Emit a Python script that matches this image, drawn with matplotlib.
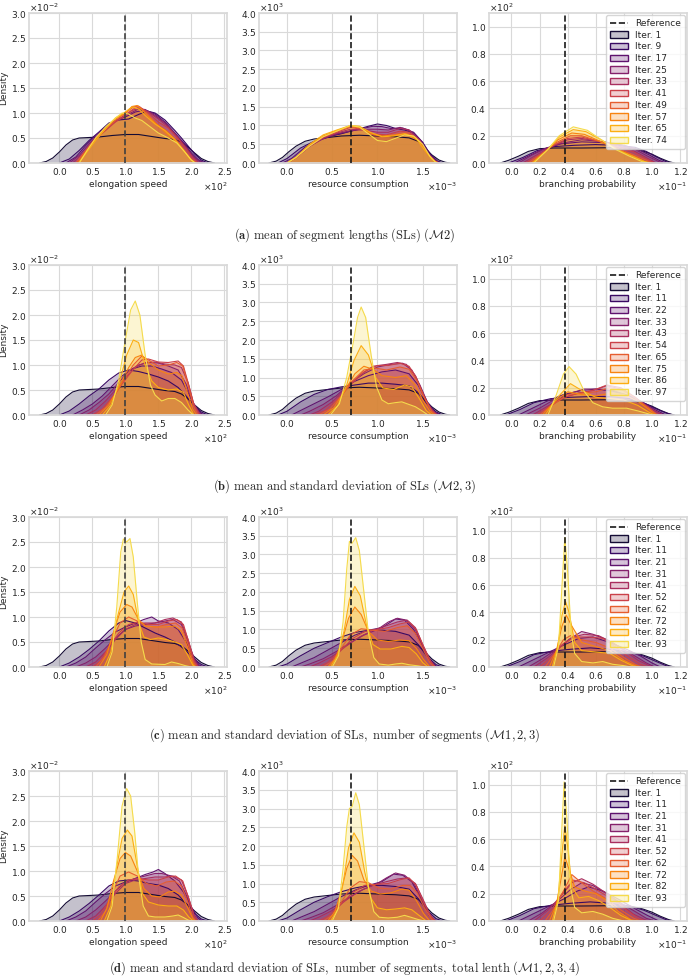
import numpy as np
import matplotlib
matplotlib.use('Agg')
import matplotlib.pyplot as plt
import seaborn as sns
from matplotlib.lines import Line2D
from matplotlib.patches import Patch
from matplotlib.ticker import MultipleLocator, ScalarFormatter

# iteration numbers shown in the legends of each row
iters_a = [1, 9, 17, 25, 33, 41, 49, 57, 65, 74]
iters_b = [1, 11, 22, 33, 43, 54, 65, 75, 86, 97]
iters_c = [1, 11, 21, 31, 41, 52, 62, 72, 82, 93]
iters_d = [1, 11, 21, 31, 41, 52, 62, 72, 82, 93]

params = ['elongation speed', 'resource consumption', 'branching probability']
reference = [1.0, 0.71, 0.38]          # in axis units (x10^2, x10^-3, x10^-1)

captions = [
    r"$\mathbf{(a)}\ \mathrm{mean\ of\ segment\ lengths\ (SLs)}\ (\mathcal{M}2)$",
    r"$\mathbf{(b)}\ \mathrm{mean\ and\ standard\ deviation\ of\ SLs}\ (\mathcal{M}2,3)$",
    r"$\mathbf{(c)}\ \mathrm{mean\ and\ standard\ deviation\ of\ SLs,\ number\ of\ segments}\ (\mathcal{M}1,2,3)$",
    r"$\mathbf{(d)}\ \mathrm{mean\ and\ standard\ deviation\ of\ SLs,\ number\ of\ segments,\ total\ lenth}\ (\mathcal{M}1,2,3,4)$",
]

# density curves, (x, density) in axis units
prior_speed = [(-0.3, 0), (-0.2, 0.03), (-0.1, 0.1), (0.0, 0.22), (0.1, 0.36), (0.2, 0.46), (0.3, 0.5),
               (0.45, 0.51), (0.6, 0.52), (0.8, 0.55), (1.0, 0.57), (1.2, 0.57), (1.4, 0.53), (1.6, 0.49),
               (1.75, 0.47), (1.85, 0.42), (1.95, 0.32), (2.05, 0.2), (2.15, 0.09), (2.25, 0.03), (2.35, 0)]
prior_res = [(-0.2, 0), (-0.12, 0.05), (-0.05, 0.15), (0.02, 0.3), (0.1, 0.45), (0.2, 0.58), (0.3, 0.64),
             (0.45, 0.68), (0.6, 0.72), (0.8, 0.74), (1.0, 0.72), (1.2, 0.7), (1.35, 0.67), (1.45, 0.58),
             (1.52, 0.42), (1.6, 0.22), (1.68, 0.08), (1.75, 0.02), (1.8, 0)]
prior_branch = [(-0.08, 0), (-0.02, 0.02), (0.05, 0.05), (0.12, 0.085), (0.2, 0.105), (0.3, 0.11), (0.5, 0.11),
                (0.7, 0.112), (0.85, 0.108), (0.93, 0.09), (1.0, 0.065), (1.06, 0.035), (1.12, 0.01), (1.16, 0)]

a_speed = [
    [(0.0, 0), (0.15, 0.08), (0.3, 0.25), (0.45, 0.45), (0.6, 0.62), (0.75, 0.8), (0.9, 0.86), (1.05, 0.88), (1.2, 0.97), (1.33, 1.04), (1.45, 1.0), (1.6, 0.86), (1.75, 0.65), (1.85, 0.5), (1.95, 0.34), (2.05, 0.18), (2.15, 0.06), (2.25, 0)],
    [(0.1, 0), (0.25, 0.12), (0.4, 0.35), (0.55, 0.55), (0.7, 0.72), (0.85, 0.85), (1.0, 0.92), (1.15, 1.02), (1.3, 1.06), (1.45, 0.98), (1.6, 0.82), (1.75, 0.6), (1.9, 0.38), (2.0, 0.2), (2.1, 0.07), (2.2, 0)],
    [(0.15, 0), (0.3, 0.15), (0.45, 0.38), (0.6, 0.58), (0.75, 0.75), (0.9, 0.88), (1.05, 0.98), (1.2, 1.08), (1.3, 1.07), (1.45, 0.95), (1.6, 0.8), (1.75, 0.58), (1.9, 0.35), (2.0, 0.18), (2.1, 0.05), (2.18, 0)],
    [(0.2, 0), (0.35, 0.18), (0.5, 0.42), (0.65, 0.6), (0.8, 0.78), (0.95, 0.92), (1.1, 1.05), (1.22, 1.1), (1.35, 1.02), (1.5, 0.88), (1.65, 0.72), (1.8, 0.5), (1.92, 0.3), (2.02, 0.12), (2.12, 0)],
    [(0.25, 0), (0.4, 0.22), (0.55, 0.48), (0.7, 0.65), (0.85, 0.82), (1.0, 0.95), (1.12, 1.08), (1.22, 1.12), (1.35, 1.0), (1.5, 0.82), (1.65, 0.7), (1.8, 0.48), (1.92, 0.28), (2.02, 0.1), (2.1, 0)],
    [(0.25, 0), (0.4, 0.25), (0.55, 0.5), (0.7, 0.68), (0.85, 0.85), (1.0, 1.0), (1.12, 1.12), (1.2, 1.14), (1.32, 1.0), (1.48, 0.78), (1.62, 0.65), (1.78, 0.45), (1.9, 0.25), (2.0, 0.08), (2.08, 0)],
    [(0.28, 0), (0.42, 0.25), (0.55, 0.48), (0.7, 0.7), (0.85, 0.88), (1.0, 1.0), (1.1, 1.13), (1.18, 1.15), (1.3, 1.0), (1.45, 0.8), (1.6, 0.62), (1.75, 0.45), (1.88, 0.25), (1.98, 0.08), (2.06, 0)],
    [(0.3, 0), (0.42, 0.22), (0.55, 0.45), (0.7, 0.68), (0.85, 0.9), (1.0, 1.02), (1.1, 1.12), (1.2, 1.08), (1.3, 0.95), (1.45, 0.78), (1.6, 0.65), (1.75, 0.47), (1.88, 0.26), (1.98, 0.08), (2.05, 0)],
    [(0.3, 0), (0.42, 0.25), (0.55, 0.5), (0.7, 0.72), (0.85, 0.9), (0.95, 1.0), (1.05, 0.98), (1.15, 0.9), (1.25, 0.85), (1.35, 0.75), (1.5, 0.6), (1.65, 0.5), (1.78, 0.4), (1.9, 0.22), (2.0, 0.06), (2.06, 0)],
]
a_res = [
    [(-0.1, 0), (0.0, 0.12), (0.15, 0.4), (0.3, 0.58), (0.45, 0.7), (0.6, 0.78), (0.75, 0.88), (0.9, 0.98), (1.0, 1.04), (1.1, 1.0), (1.2, 0.92), (1.3, 0.88), (1.4, 0.8), (1.5, 0.55), (1.58, 0.25), (1.66, 0.06), (1.72, 0)],
    [(-0.05, 0), (0.05, 0.12), (0.2, 0.42), (0.35, 0.6), (0.5, 0.73), (0.65, 0.82), (0.8, 0.9), (0.95, 0.98), (1.05, 0.97), (1.15, 0.92), (1.28, 0.93), (1.4, 0.82), (1.5, 0.55), (1.58, 0.22), (1.66, 0.04), (1.7, 0)],
    [(0.0, 0), (0.1, 0.15), (0.25, 0.45), (0.4, 0.65), (0.55, 0.78), (0.7, 0.86), (0.85, 0.9), (1.0, 0.9), (1.12, 0.88), (1.25, 0.95), (1.35, 0.88), (1.47, 0.6), (1.56, 0.25), (1.64, 0.05), (1.68, 0)],
    [(0.0, 0), (0.1, 0.15), (0.25, 0.45), (0.4, 0.66), (0.55, 0.8), (0.7, 0.9), (0.85, 0.88), (1.0, 0.82), (1.12, 0.82), (1.25, 0.92), (1.35, 0.88), (1.47, 0.6), (1.56, 0.25), (1.64, 0.05), (1.68, 0)],
    [(0.0, 0), (0.1, 0.15), (0.25, 0.45), (0.4, 0.68), (0.55, 0.82), (0.7, 0.95), (0.82, 0.9), (0.95, 0.78), (1.1, 0.75), (1.25, 0.85), (1.35, 0.82), (1.47, 0.58), (1.56, 0.23), (1.64, 0.04), (1.68, 0)],
    [(0.0, 0), (0.1, 0.15), (0.25, 0.48), (0.4, 0.7), (0.55, 0.85), (0.7, 0.97), (0.8, 0.93), (0.95, 0.75), (1.1, 0.7), (1.25, 0.8), (1.35, 0.8), (1.47, 0.56), (1.56, 0.22), (1.64, 0.04), (1.68, 0)],
    [(0.0, 0), (0.1, 0.15), (0.25, 0.48), (0.4, 0.72), (0.55, 0.86), (0.7, 0.98), (0.8, 0.95), (0.92, 0.8), (1.05, 0.72), (1.2, 0.75), (1.32, 0.78), (1.45, 0.6), (1.55, 0.25), (1.63, 0.05), (1.67, 0)],
    [(0.0, 0), (0.1, 0.15), (0.25, 0.5), (0.4, 0.75), (0.55, 0.88), (0.7, 1.0), (0.8, 0.98), (0.92, 0.82), (1.05, 0.7), (1.18, 0.72), (1.3, 0.78), (1.42, 0.68), (1.52, 0.35), (1.6, 0.1), (1.66, 0)],
    [(0.0, 0), (0.1, 0.15), (0.25, 0.45), (0.4, 0.7), (0.55, 0.85), (0.7, 1.0), (0.8, 0.96), (0.9, 0.78), (1.0, 0.6), (1.1, 0.57), (1.2, 0.66), (1.3, 0.75), (1.4, 0.72), (1.5, 0.5), (1.58, 0.18), (1.65, 0)],
]
a_branch = [
    [(-0.02, 0), (0.08, 0.04), (0.18, 0.09), (0.3, 0.12), (0.45, 0.13), (0.6, 0.135), (0.75, 0.13), (0.88, 0.115), (0.96, 0.085), (1.03, 0.045), (1.1, 0.01), (1.14, 0)],
    [(0.02, 0), (0.12, 0.05), (0.22, 0.1), (0.35, 0.14), (0.5, 0.155), (0.65, 0.15), (0.8, 0.13), (0.9, 0.1), (0.98, 0.06), (1.05, 0.02), (1.1, 0)],
    [(0.05, 0), (0.15, 0.06), (0.25, 0.11), (0.38, 0.15), (0.5, 0.17), (0.62, 0.16), (0.76, 0.14), (0.88, 0.1), (0.97, 0.05), (1.05, 0.01), (1.08, 0)],
    [(0.08, 0), (0.18, 0.06), (0.28, 0.12), (0.4, 0.17), (0.5, 0.18), (0.62, 0.16), (0.75, 0.13), (0.87, 0.09), (0.96, 0.04), (1.03, 0)],
    [(0.1, 0), (0.2, 0.06), (0.3, 0.13), (0.4, 0.18), (0.5, 0.19), (0.62, 0.16), (0.75, 0.12), (0.87, 0.08), (0.96, 0.03), (1.02, 0)],
    [(0.12, 0), (0.22, 0.07), (0.32, 0.15), (0.42, 0.2), (0.5, 0.2), (0.62, 0.16), (0.75, 0.11), (0.87, 0.06), (0.96, 0.02), (1.0, 0)],
    [(0.14, 0), (0.24, 0.08), (0.33, 0.17), (0.43, 0.22), (0.52, 0.21), (0.63, 0.16), (0.75, 0.1), (0.87, 0.05), (0.95, 0.01), (0.99, 0)],
    [(0.15, 0), (0.25, 0.09), (0.34, 0.19), (0.44, 0.245), (0.53, 0.23), (0.64, 0.17), (0.75, 0.1), (0.86, 0.05), (0.95, 0.01), (0.99, 0)],
    [(0.16, 0), (0.26, 0.1), (0.34, 0.2), (0.44, 0.265), (0.54, 0.24), (0.64, 0.17), (0.74, 0.1), (0.84, 0.05), (0.93, 0.01), (0.98, 0)],
]

b_speed = [
    [(0.0, 0), (0.15, 0.08), (0.3, 0.22), (0.45, 0.38), (0.6, 0.52), (0.75, 0.7), (0.9, 0.84), (1.05, 0.9), (1.2, 0.87), (1.35, 0.82), (1.5, 0.76), (1.65, 0.68), (1.8, 0.55), (1.92, 0.38), (2.05, 0.18), (2.15, 0.06), (2.25, 0)],
    [(0.2, 0), (0.35, 0.1), (0.5, 0.22), (0.65, 0.38), (0.8, 0.58), (0.95, 0.78), (1.1, 0.92), (1.25, 0.98), (1.4, 0.98), (1.55, 0.92), (1.7, 0.85), (1.85, 0.7), (1.95, 0.45), (2.05, 0.18), (2.15, 0.03), (2.2, 0)],
    [(0.3, 0), (0.45, 0.1), (0.6, 0.25), (0.75, 0.42), (0.9, 0.65), (1.05, 0.88), (1.2, 1.0), (1.35, 1.05), (1.5, 1.04), (1.65, 0.98), (1.8, 0.9), (1.92, 0.62), (2.02, 0.25), (2.12, 0.04), (2.16, 0)],
    [(0.4, 0), (0.55, 0.1), (0.7, 0.28), (0.85, 0.5), (1.0, 0.75), (1.15, 0.95), (1.3, 1.05), (1.45, 1.06), (1.6, 1.02), (1.75, 1.0), (1.85, 0.95), (1.95, 0.65), (2.03, 0.25), (2.12, 0.03), (2.15, 0)],
    [(0.5, 0), (0.65, 0.12), (0.8, 0.35), (0.95, 0.62), (1.1, 0.88), (1.25, 1.1), (1.35, 1.12), (1.5, 1.06), (1.65, 1.05), (1.8, 1.08), (1.88, 0.98), (1.96, 0.6), (2.04, 0.2), (2.12, 0)],
    [(0.55, 0), (0.7, 0.15), (0.85, 0.42), (1.0, 0.75), (1.12, 1.0), (1.25, 1.18), (1.35, 1.1), (1.5, 0.98), (1.65, 1.0), (1.78, 1.05), (1.87, 0.98), (1.95, 0.6), (2.03, 0.18), (2.1, 0)],
    [(0.6, 0), (0.75, 0.2), (0.9, 0.55), (1.05, 0.95), (1.15, 1.15), (1.25, 1.2), (1.35, 1.05), (1.5, 0.9), (1.65, 0.82), (1.78, 0.85), (1.86, 0.78), (1.94, 0.45), (2.02, 0.12), (2.08, 0)],
    [(0.65, 0), (0.78, 0.2), (0.9, 0.6), (1.02, 1.2), (1.12, 1.5), (1.2, 1.45), (1.3, 1.0), (1.4, 0.68), (1.5, 0.55), (1.65, 0.5), (1.78, 0.52), (1.88, 0.45), (1.96, 0.2), (2.04, 0)],
    [(0.7, 0), (0.8, 0.2), (0.9, 0.7), (1.0, 1.5), (1.08, 2.1), (1.15, 2.28), (1.22, 2.0), (1.3, 1.2), (1.38, 0.6), (1.45, 0.4), (1.55, 0.28), (1.65, 0.33), (1.75, 0.33), (1.85, 0.25), (1.95, 0.1), (2.03, 0)],
]
b_res = [
    [(-0.1, 0), (0.0, 0.1), (0.15, 0.35), (0.3, 0.55), (0.45, 0.68), (0.6, 0.75), (0.75, 0.8), (0.9, 0.85), (1.05, 0.85), (1.2, 0.82), (1.35, 0.78), (1.45, 0.6), (1.55, 0.3), (1.65, 0.08), (1.72, 0)],
    [(0.05, 0), (0.15, 0.12), (0.3, 0.3), (0.45, 0.48), (0.6, 0.68), (0.75, 0.9), (0.9, 1.05), (1.05, 1.15), (1.2, 1.2), (1.35, 1.1), (1.45, 0.8), (1.55, 0.35), (1.63, 0.08), (1.7, 0)],
    [(0.15, 0), (0.25, 0.1), (0.4, 0.28), (0.55, 0.52), (0.7, 0.85), (0.85, 1.1), (1.0, 1.28), (1.15, 1.35), (1.28, 1.38), (1.38, 1.2), (1.47, 0.8), (1.56, 0.3), (1.64, 0.05), (1.68, 0)],
    [(0.25, 0), (0.35, 0.1), (0.5, 0.35), (0.65, 0.7), (0.8, 1.05), (0.95, 1.3), (1.1, 1.35), (1.22, 1.4), (1.32, 1.35), (1.42, 1.05), (1.5, 0.6), (1.58, 0.2), (1.66, 0)],
    [(0.3, 0), (0.42, 0.12), (0.55, 0.4), (0.7, 0.8), (0.85, 1.15), (1.0, 1.32), (1.12, 1.32), (1.25, 1.38), (1.35, 1.3), (1.43, 1.0), (1.51, 0.5), (1.6, 0.12), (1.66, 0)],
    [(0.35, 0), (0.47, 0.15), (0.6, 0.5), (0.72, 0.9), (0.85, 1.2), (0.98, 1.25), (1.1, 1.2), (1.25, 1.28), (1.35, 1.22), (1.44, 0.9), (1.52, 0.45), (1.6, 0.1), (1.65, 0)],
    [(0.4, 0), (0.52, 0.2), (0.64, 0.65), (0.75, 1.1), (0.85, 1.3), (0.95, 1.22), (1.05, 1.05), (1.2, 1.0), (1.32, 1.05), (1.42, 0.8), (1.5, 0.4), (1.58, 0.1), (1.63, 0)],
    [(0.45, 0), (0.56, 0.25), (0.66, 0.8), (0.74, 1.45), (0.82, 1.85), (0.9, 1.6), (0.98, 1.0), (1.06, 0.72), (1.18, 0.68), (1.3, 0.8), (1.38, 0.75), (1.46, 0.45), (1.54, 0.12), (1.6, 0)],
    [(0.48, 0), (0.58, 0.3), (0.66, 1.0), (0.73, 1.9), (0.78, 2.6), (0.82, 2.88), (0.87, 2.6), (0.93, 1.6), (0.99, 0.75), (1.05, 0.4), (1.12, 0.3), (1.2, 0.33), (1.27, 0.35), (1.35, 0.28), (1.42, 0.22), (1.5, 0.1), (1.56, 0)],
]
b_branch = [
    [(-0.04, 0), (0.06, 0.04), (0.16, 0.09), (0.28, 0.12), (0.42, 0.13), (0.56, 0.135), (0.7, 0.135), (0.84, 0.12), (0.94, 0.09), (1.02, 0.05), (1.1, 0.015), (1.15, 0)],
    [(0.05, 0), (0.15, 0.05), (0.25, 0.1), (0.37, 0.15), (0.5, 0.18), (0.6, 0.19), (0.72, 0.175), (0.84, 0.14), (0.94, 0.09), (1.02, 0.04), (1.1, 0)],
    [(0.1, 0), (0.2, 0.05), (0.3, 0.11), (0.42, 0.16), (0.52, 0.19), (0.62, 0.19), (0.72, 0.18), (0.84, 0.14), (0.94, 0.08), (1.02, 0.03), (1.08, 0)],
    [(0.15, 0), (0.25, 0.06), (0.35, 0.12), (0.47, 0.16), (0.58, 0.18), (0.68, 0.215), (0.78, 0.19), (0.88, 0.13), (0.96, 0.07), (1.04, 0.02), (1.08, 0)],
    [(0.18, 0), (0.28, 0.07), (0.38, 0.13), (0.48, 0.16), (0.58, 0.18), (0.68, 0.22), (0.78, 0.2), (0.88, 0.13), (0.96, 0.06), (1.03, 0.01), (1.06, 0)],
    [(0.2, 0), (0.3, 0.08), (0.4, 0.15), (0.5, 0.16), (0.6, 0.17), (0.7, 0.2), (0.8, 0.18), (0.9, 0.11), (0.98, 0.05), (1.04, 0)],
    [(0.22, 0), (0.31, 0.1), (0.4, 0.17), (0.5, 0.15), (0.6, 0.14), (0.7, 0.16), (0.8, 0.15), (0.9, 0.1), (0.98, 0.04), (1.03, 0)],
    [(0.24, 0), (0.32, 0.12), (0.42, 0.23), (0.5, 0.18), (0.6, 0.13), (0.7, 0.12), (0.8, 0.11), (0.9, 0.07), (0.98, 0.02), (1.02, 0)],
    [(0.26, 0), (0.32, 0.15), (0.37, 0.3), (0.41, 0.355), (0.46, 0.3), (0.52, 0.17), (0.58, 0.09), (0.65, 0.06), (0.72, 0.05), (0.82, 0.05), (0.9, 0.03), (0.97, 0.01), (1.0, 0)],
]

c_speed = [
    [(0.0, 0), (0.15, 0.08), (0.3, 0.2), (0.45, 0.35), (0.6, 0.52), (0.75, 0.72), (0.9, 0.88), (1.0, 0.93), (1.15, 0.88), (1.3, 0.78), (1.45, 0.68), (1.6, 0.6), (1.75, 0.5), (1.9, 0.35), (2.05, 0.15), (2.15, 0.05), (2.25, 0)],
    [(0.1, 0), (0.25, 0.08), (0.4, 0.2), (0.55, 0.38), (0.7, 0.55), (0.85, 0.7), (1.0, 0.8), (1.15, 0.88), (1.28, 0.95), (1.4, 1.0), (1.5, 0.92), (1.65, 0.88), (1.8, 0.75), (1.92, 0.5), (2.02, 0.22), (2.12, 0.04), (2.18, 0)],
    [(0.25, 0), (0.4, 0.08), (0.55, 0.2), (0.7, 0.38), (0.85, 0.58), (1.0, 0.75), (1.15, 0.82), (1.3, 0.85), (1.45, 0.88), (1.6, 0.92), (1.72, 0.95), (1.85, 0.85), (1.95, 0.5), (2.05, 0.15), (2.12, 0)],
    [(0.4, 0), (0.55, 0.1), (0.7, 0.3), (0.85, 0.55), (1.0, 0.75), (1.15, 0.85), (1.3, 0.88), (1.45, 0.88), (1.6, 0.95), (1.72, 0.98), (1.85, 0.9), (1.95, 0.55), (2.04, 0.15), (2.1, 0)],
    [(0.5, 0), (0.62, 0.12), (0.75, 0.4), (0.9, 0.68), (1.05, 0.85), (1.2, 0.9), (1.35, 0.85), (1.5, 0.85), (1.65, 0.92), (1.78, 0.95), (1.88, 0.85), (1.96, 0.5), (2.04, 0.12), (2.1, 0)],
    [(0.55, 0), (0.68, 0.2), (0.8, 0.55), (0.92, 0.88), (1.05, 1.0), (1.18, 0.92), (1.32, 0.82), (1.48, 0.8), (1.62, 0.85), (1.76, 0.88), (1.86, 0.78), (1.95, 0.45), (2.03, 0.1), (2.08, 0)],
    [(0.6, 0), (0.72, 0.25), (0.82, 0.7), (0.92, 1.1), (1.02, 1.25), (1.1, 1.2), (1.2, 0.95), (1.3, 0.82), (1.45, 0.8), (1.6, 0.8), (1.75, 0.82), (1.85, 0.72), (1.94, 0.4), (2.02, 0.08), (2.06, 0)],
    [(0.68, 0), (0.78, 0.3), (0.88, 1.0), (0.98, 1.5), (1.05, 1.62), (1.12, 1.45), (1.2, 0.9), (1.28, 0.6), (1.38, 0.55), (1.5, 0.58), (1.62, 0.55), (1.75, 0.5), (1.85, 0.45), (1.94, 0.25), (2.02, 0.04), (2.06, 0)],
    [(0.72, 0), (0.8, 0.3), (0.87, 1.2), (0.93, 2.3), (0.97, 2.56), (1.02, 2.5), (1.07, 2.57), (1.12, 2.2), (1.18, 1.3), (1.24, 0.5), (1.3, 0.15), (1.4, 0.06), (1.6, 0.05), (1.7, 0.1), (1.8, 0.07), (1.9, 0.03), (2.0, 0)],
]
c_res = [
    [(-0.1, 0), (0.0, 0.08), (0.15, 0.3), (0.3, 0.5), (0.45, 0.65), (0.6, 0.8), (0.75, 0.92), (0.9, 0.98), (1.05, 0.98), (1.2, 0.95), (1.35, 0.85), (1.45, 0.6), (1.55, 0.28), (1.65, 0.06), (1.72, 0)],
    [(0.05, 0), (0.15, 0.1), (0.3, 0.25), (0.45, 0.45), (0.6, 0.65), (0.75, 0.85), (0.9, 0.98), (1.05, 1.05), (1.2, 1.28), (1.3, 1.25), (1.4, 1.0), (1.5, 0.55), (1.58, 0.18), (1.66, 0)],
    [(0.15, 0), (0.25, 0.08), (0.4, 0.22), (0.55, 0.42), (0.7, 0.65), (0.85, 0.85), (1.0, 1.0), (1.12, 1.2), (1.22, 1.3), (1.32, 1.25), (1.42, 1.0), (1.5, 0.55), (1.58, 0.15), (1.65, 0)],
    [(0.25, 0), (0.35, 0.1), (0.5, 0.28), (0.65, 0.55), (0.8, 0.8), (0.95, 0.98), (1.1, 1.1), (1.22, 1.2), (1.33, 1.25), (1.42, 1.05), (1.5, 0.6), (1.58, 0.18), (1.64, 0)],
    [(0.35, 0), (0.45, 0.12), (0.58, 0.4), (0.72, 0.75), (0.86, 0.95), (1.0, 1.0), (1.12, 1.05), (1.25, 1.15), (1.35, 1.2), (1.43, 1.0), (1.51, 0.55), (1.59, 0.15), (1.64, 0)],
    [(0.4, 0), (0.5, 0.15), (0.6, 0.5), (0.7, 0.85), (0.82, 1.02), (0.95, 0.98), (1.08, 0.95), (1.22, 1.05), (1.33, 1.1), (1.42, 0.9), (1.5, 0.5), (1.58, 0.12), (1.63, 0)],
    [(0.45, 0), (0.53, 0.2), (0.61, 0.7), (0.68, 1.3), (0.75, 1.6), (0.82, 1.4), (0.9, 0.95), (1.0, 0.72), (1.12, 0.68), (1.25, 0.72), (1.35, 0.7), (1.43, 0.5), (1.51, 0.2), (1.58, 0)],
    [(0.48, 0), (0.56, 0.3), (0.63, 0.95), (0.69, 1.8), (0.75, 2.15), (0.81, 1.9), (0.88, 1.1), (0.95, 0.6), (1.03, 0.48), (1.15, 0.48), (1.27, 0.55), (1.35, 0.52), (1.43, 0.35), (1.5, 0.12), (1.56, 0)],
    [(0.5, 0), (0.57, 0.3), (0.62, 1.2), (0.66, 2.6), (0.69, 3.35), (0.72, 3.3), (0.76, 3.45), (0.8, 3.1), (0.85, 2.0), (0.9, 0.9), (0.96, 0.25), (1.02, 0.08), (1.12, 0.05), (1.2, 0.08), (1.27, 0.1), (1.35, 0.06), (1.45, 0.03), (1.52, 0)],
]
c_branch = [
    [(-0.04, 0), (0.06, 0.04), (0.16, 0.09), (0.28, 0.115), (0.42, 0.13), (0.56, 0.14), (0.7, 0.13), (0.84, 0.11), (0.94, 0.08), (1.02, 0.045), (1.1, 0.01), (1.14, 0)],
    [(0.05, 0), (0.15, 0.05), (0.25, 0.1), (0.37, 0.16), (0.48, 0.21), (0.58, 0.22), (0.7, 0.18), (0.82, 0.13), (0.92, 0.08), (1.0, 0.03), (1.06, 0)],
    [(0.12, 0), (0.22, 0.06), (0.32, 0.13), (0.42, 0.21), (0.5, 0.26), (0.58, 0.24), (0.68, 0.2), (0.78, 0.14), (0.88, 0.08), (0.96, 0.03), (1.02, 0)],
    [(0.16, 0), (0.26, 0.07), (0.35, 0.15), (0.44, 0.22), (0.52, 0.24), (0.62, 0.23), (0.72, 0.18), (0.82, 0.11), (0.9, 0.05), (0.98, 0.01), (1.0, 0)],
    [(0.2, 0), (0.29, 0.08), (0.37, 0.17), (0.45, 0.22), (0.55, 0.22), (0.65, 0.21), (0.75, 0.14), (0.84, 0.07), (0.92, 0.02), (0.97, 0)],
    [(0.24, 0), (0.31, 0.1), (0.37, 0.2), (0.42, 0.23), (0.5, 0.2), (0.6, 0.18), (0.7, 0.14), (0.8, 0.07), (0.88, 0.02), (0.93, 0)],
    [(0.27, 0), (0.32, 0.12), (0.36, 0.3), (0.39, 0.38), (0.43, 0.3), (0.5, 0.18), (0.6, 0.15), (0.7, 0.12), (0.8, 0.05), (0.88, 0.01), (0.92, 0)],
    [(0.29, 0), (0.33, 0.15), (0.36, 0.38), (0.385, 0.48), (0.41, 0.4), (0.45, 0.18), (0.5, 0.12), (0.6, 0.11), (0.7, 0.1), (0.78, 0.05), (0.86, 0.01), (0.9, 0)],
    [(0.3, 0), (0.335, 0.15), (0.36, 0.6), (0.38, 0.95), (0.4, 0.7), (0.425, 0.25), (0.45, 0.1), (0.5, 0.04), (0.58, 0.03), (0.65, 0.04), (0.72, 0.02), (0.8, 0.01), (0.85, 0)],
]

d_speed = [
    [(0.0, 0), (0.15, 0.08), (0.3, 0.2), (0.45, 0.35), (0.6, 0.52), (0.75, 0.7), (0.9, 0.8), (1.05, 0.82), (1.2, 0.8), (1.35, 0.75), (1.5, 0.72), (1.65, 0.65), (1.8, 0.52), (1.92, 0.35), (2.05, 0.15), (2.15, 0.04), (2.25, 0)],
    [(0.1, 0), (0.25, 0.08), (0.4, 0.2), (0.55, 0.38), (0.7, 0.55), (0.85, 0.7), (1.0, 0.78), (1.15, 0.85), (1.3, 0.93), (1.42, 0.98), (1.5, 1.03), (1.6, 0.95), (1.75, 0.8), (1.88, 0.58), (2.0, 0.28), (2.1, 0.06), (2.16, 0)],
    [(0.25, 0), (0.4, 0.08), (0.55, 0.22), (0.7, 0.4), (0.85, 0.6), (1.0, 0.78), (1.15, 0.85), (1.3, 0.9), (1.45, 0.95), (1.55, 0.95), (1.7, 0.9), (1.82, 0.8), (1.93, 0.5), (2.03, 0.15), (2.1, 0)],
    [(0.4, 0), (0.55, 0.1), (0.7, 0.3), (0.85, 0.55), (1.0, 0.75), (1.15, 0.82), (1.3, 0.85), (1.45, 0.88), (1.6, 0.88), (1.72, 0.9), (1.85, 0.82), (1.95, 0.5), (2.04, 0.12), (2.1, 0)],
    [(0.5, 0), (0.62, 0.12), (0.75, 0.4), (0.9, 0.68), (1.05, 0.82), (1.2, 0.85), (1.35, 0.82), (1.5, 0.82), (1.65, 0.88), (1.76, 0.9), (1.87, 0.8), (1.96, 0.45), (2.04, 0.1), (2.1, 0)],
    [(0.58, 0), (0.7, 0.2), (0.8, 0.55), (0.92, 0.9), (1.05, 0.98), (1.18, 0.9), (1.32, 0.75), (1.48, 0.7), (1.62, 0.78), (1.74, 0.8), (1.85, 0.7), (1.94, 0.4), (2.02, 0.08), (2.07, 0)],
    [(0.62, 0), (0.72, 0.25), (0.82, 0.8), (0.92, 1.25), (1.0, 1.37), (1.08, 1.3), (1.18, 1.0), (1.28, 0.65), (1.4, 0.5), (1.52, 0.48), (1.65, 0.58), (1.75, 0.6), (1.85, 0.52), (1.94, 0.28), (2.02, 0.05), (2.06, 0)],
    [(0.68, 0), (0.78, 0.3), (0.87, 1.1), (0.95, 1.65), (1.03, 1.82), (1.1, 1.7), (1.18, 1.1), (1.26, 0.55), (1.35, 0.38), (1.5, 0.32), (1.65, 0.3), (1.78, 0.3), (1.88, 0.22), (1.96, 0.08), (2.03, 0)],
    [(0.72, 0), (0.8, 0.3), (0.88, 1.3), (0.95, 2.3), (1.02, 2.65), (1.08, 2.5), (1.14, 1.8), (1.2, 0.9), (1.27, 0.3), (1.35, 0.1), (1.45, 0.08), (1.6, 0.08), (1.72, 0.1), (1.8, 0.12), (1.88, 0.07), (1.95, 0.02), (2.0, 0)],
]
d_res = [
    [(-0.1, 0), (0.0, 0.08), (0.15, 0.3), (0.3, 0.5), (0.45, 0.65), (0.6, 0.78), (0.75, 0.88), (0.9, 0.95), (1.05, 0.95), (1.2, 0.92), (1.35, 0.85), (1.45, 0.6), (1.55, 0.28), (1.65, 0.06), (1.72, 0)],
    [(0.05, 0), (0.15, 0.1), (0.3, 0.25), (0.45, 0.45), (0.6, 0.65), (0.75, 0.82), (0.9, 0.95), (1.05, 1.05), (1.18, 1.25), (1.28, 1.22), (1.38, 1.05), (1.48, 0.6), (1.57, 0.18), (1.65, 0)],
    [(0.15, 0), (0.25, 0.08), (0.4, 0.22), (0.55, 0.42), (0.7, 0.65), (0.85, 0.85), (1.0, 1.0), (1.1, 1.15), (1.2, 1.28), (1.3, 1.22), (1.4, 1.02), (1.49, 0.58), (1.57, 0.15), (1.64, 0)],
    [(0.25, 0), (0.35, 0.1), (0.5, 0.28), (0.65, 0.55), (0.8, 0.8), (0.95, 0.95), (1.1, 1.05), (1.22, 1.12), (1.33, 1.15), (1.42, 1.0), (1.5, 0.6), (1.58, 0.18), (1.64, 0)],
    [(0.35, 0), (0.45, 0.12), (0.58, 0.4), (0.72, 0.75), (0.86, 0.95), (1.0, 0.98), (1.12, 1.0), (1.25, 1.1), (1.35, 1.15), (1.43, 0.95), (1.51, 0.5), (1.59, 0.12), (1.64, 0)],
    [(0.4, 0), (0.5, 0.15), (0.6, 0.5), (0.7, 0.88), (0.8, 1.05), (0.9, 1.02), (1.02, 0.88), (1.15, 0.85), (1.28, 0.95), (1.36, 0.95), (1.44, 0.75), (1.52, 0.35), (1.6, 0.05), (1.63, 0)],
    [(0.45, 0), (0.53, 0.25), (0.6, 0.8), (0.66, 1.4), (0.72, 1.75), (0.78, 1.6), (0.85, 1.1), (0.93, 0.8), (1.03, 0.72), (1.15, 0.75), (1.27, 0.85), (1.35, 0.82), (1.43, 0.55), (1.51, 0.2), (1.58, 0)],
    [(0.48, 0), (0.56, 0.3), (0.62, 1.0), (0.68, 1.95), (0.74, 2.35), (0.8, 2.1), (0.86, 1.3), (0.93, 0.6), (1.0, 0.35), (1.1, 0.3), (1.2, 0.32), (1.3, 0.35), (1.38, 0.3), (1.46, 0.15), (1.54, 0)],
    [(0.5, 0), (0.57, 0.35), (0.62, 1.4), (0.66, 2.5), (0.69, 3.0), (0.72, 3.05), (0.76, 3.42), (0.8, 3.1), (0.85, 2.0), (0.9, 0.9), (0.96, 0.25), (1.02, 0.1), (1.12, 0.08), (1.22, 0.1), (1.3, 0.15), (1.37, 0.1), (1.45, 0.04), (1.52, 0)],
]
d_branch = [
    [(-0.04, 0), (0.06, 0.04), (0.16, 0.09), (0.28, 0.115), (0.42, 0.13), (0.56, 0.14), (0.7, 0.13), (0.84, 0.11), (0.94, 0.08), (1.02, 0.045), (1.1, 0.01), (1.14, 0)],
    [(0.05, 0), (0.15, 0.05), (0.25, 0.1), (0.37, 0.16), (0.47, 0.22), (0.55, 0.25), (0.65, 0.22), (0.78, 0.15), (0.88, 0.09), (0.97, 0.04), (1.05, 0)],
    [(0.12, 0), (0.22, 0.06), (0.32, 0.14), (0.42, 0.23), (0.5, 0.28), (0.58, 0.26), (0.68, 0.2), (0.78, 0.13), (0.88, 0.07), (0.96, 0.02), (1.02, 0)],
    [(0.16, 0), (0.26, 0.08), (0.35, 0.18), (0.43, 0.28), (0.5, 0.31), (0.58, 0.27), (0.68, 0.2), (0.78, 0.12), (0.87, 0.05), (0.95, 0.01), (0.98, 0)],
    [(0.2, 0), (0.29, 0.09), (0.36, 0.2), (0.44, 0.3), (0.52, 0.28), (0.62, 0.22), (0.72, 0.16), (0.82, 0.08), (0.9, 0.02), (0.95, 0)],
    [(0.24, 0), (0.31, 0.1), (0.37, 0.22), (0.43, 0.34), (0.5, 0.28), (0.58, 0.22), (0.68, 0.16), (0.78, 0.08), (0.87, 0.02), (0.92, 0)],
    [(0.27, 0), (0.32, 0.12), (0.355, 0.32), (0.38, 0.47), (0.41, 0.38), (0.45, 0.25), (0.52, 0.22), (0.6, 0.2), (0.68, 0.15), (0.76, 0.07), (0.85, 0.01), (0.9, 0)],
    [(0.29, 0), (0.33, 0.15), (0.36, 0.5), (0.38, 0.7), (0.4, 0.55), (0.43, 0.25), (0.48, 0.17), (0.55, 0.18), (0.62, 0.15), (0.7, 0.1), (0.78, 0.04), (0.86, 0)],
    [(0.3, 0), (0.335, 0.15), (0.355, 0.6), (0.375, 1.02), (0.395, 0.75), (0.42, 0.25), (0.45, 0.1), (0.5, 0.06), (0.58, 0.07), (0.65, 0.05), (0.72, 0.02), (0.8, 0)],
]

rows = [
    (iters_a, [a_speed, a_res, a_branch]),
    (iters_b, [b_speed, b_res, b_branch]),
    (iters_c, [c_speed, c_res, c_branch]),
    (iters_d, [d_speed, d_res, d_branch]),
]
priors = [prior_speed, prior_res, prior_branch]

# unit factors of each column (x, density) and axis settings
x_fac = [1e2, 1e-3, 1e-1]
y_fac = [1e-2, 1e3, 1e2]
x_lim = [(-0.46, 2.54), (-0.31, 1.88), (-0.16, 1.25)]
y_lim = [3.0, 4.0, 1.1]
x_step = [0.5, 0.5, 0.2]
y_step = [0.5, 0.5, 0.2]

sns.set_theme(style='whitegrid')
plt.rcParams['font.family'] = ['DejaVu Sans']
plt.rcParams['axes.edgecolor'] = '0.85'
plt.rcParams['grid.color'] = '0.85'
plt.rcParams['grid.linewidth'] = 0.8

colors = sns.color_palette('inferno', 10)

W, H = 690, 980
fig = plt.figure(figsize=(W / 100, H / 100), dpi=100)

col_left = [29, 259, 489]
row_top = [13, 265, 517, 771]
ax_w, ax_h = 198, 150
cap_y = [235, 486, 735, 968]

for r, (iters, panels) in enumerate(rows):
    for c in range(3):
        ax = fig.add_axes([col_left[c] / W, 1 - (row_top[r] + ax_h) / H, ax_w / W, ax_h / H])
        curves = [priors[c]] + panels[c]
        for curve, color in zip(curves, colors):
            x, y = np.array(curve).T
            ax.fill_between(x * x_fac[c], y * y_fac[c], color=color, alpha=0.25, lw=0)
            ax.plot(x * x_fac[c], y * y_fac[c], color=color, lw=0.8)
        ax.axvline(reference[c] * x_fac[c], color='0.25' if c == 0 else 'k', ls='--', lw=1.2, zorder=5)

        ax.set_xlim(x_lim[c][0] * x_fac[c], x_lim[c][1] * x_fac[c])
        ax.set_ylim(0, y_lim[c] * y_fac[c])
        ax.xaxis.set_major_locator(MultipleLocator(x_step[c] * x_fac[c]))
        ax.yaxis.set_major_locator(MultipleLocator(y_step[c] * y_fac[c]))
        for axis in (ax.xaxis, ax.yaxis):
            fmt = ScalarFormatter(useMathText=True)
            fmt.set_powerlimits((0, 0))
            axis.set_major_formatter(fmt)
            axis.get_offset_text().set_fontsize(6.5)
        ax.yaxis.OFFSETTEXTPAD = 0.5
        ax.tick_params(labelsize=6.5, pad=2, length=0)
        ax.set_xlabel(params[c], fontsize=6.5, labelpad=2)
        if c == 0:
            ax.set_ylabel('Density', fontsize=6.5, labelpad=2)

        if c == 2:
            handles = [Line2D([0], [0], color='k', ls='--', lw=1.2, label='Reference')]
            for n, color in zip(iters, colors):
                handles.append(Patch(facecolor=(*color, 0.25), edgecolor=color, lw=1, label=f'Iter. {n}'))
            ax.legend(handles=handles, loc='upper right', fontsize=6.5, labelspacing=0.3,
                      handlelength=2.0, borderaxespad=0.25, borderpad=0.4, framealpha=0.8)

    fig.text(0.5, 1 - cap_y[r] / H, captions[r], ha='center', va='center',
             fontsize=9, math_fontfamily='cm')

fig.savefig('out.png', dpi=100)
